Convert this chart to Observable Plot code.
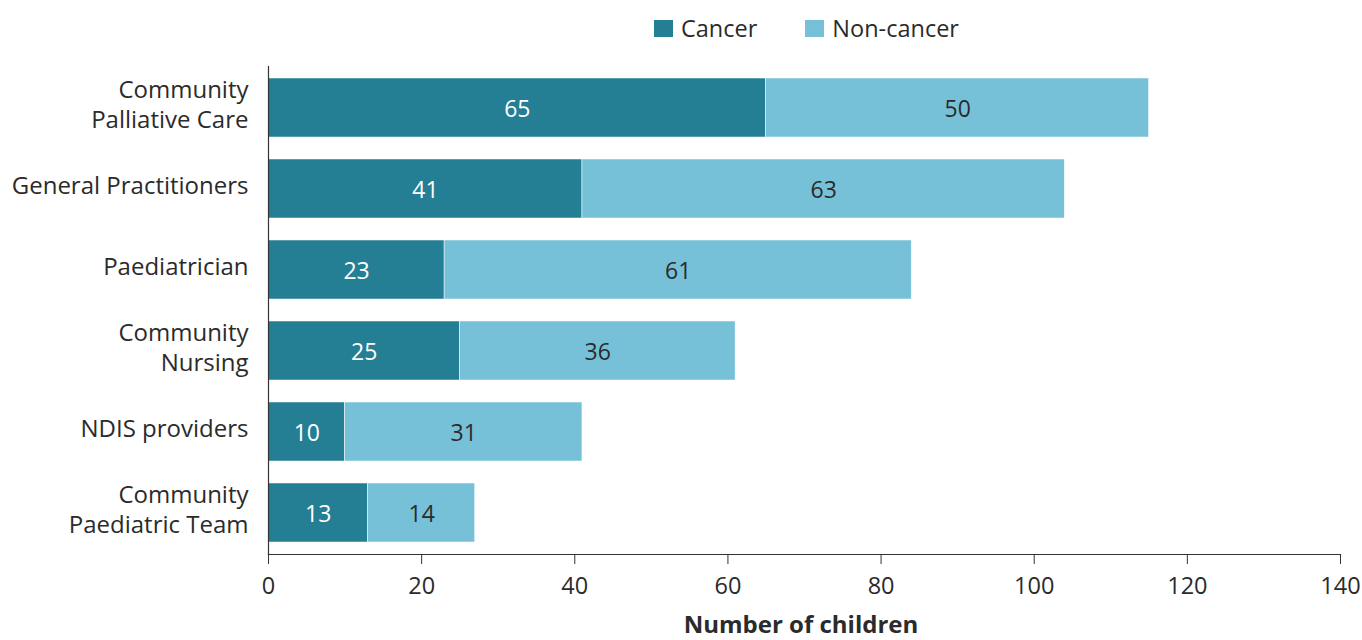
<!DOCTYPE html>
<html>
<head>
<meta charset="utf-8">
<script src="https://cdn.jsdelivr.net/npm/d3@7"></script>
<script src="https://cdn.jsdelivr.net/npm/@observablehq/plot@0.6"></script>
<style>
  body { margin: 0; background: #fff; font-family: "Open Sans", sans-serif; }
  #wrap { position: relative; width: 1362px; height: 640px; }
  #legend { position: absolute; top: 14px; left: 654px; display: flex; align-items: center; font-size: 23.5px; color: #2b2b2b; line-height: 28px; }
  .sw { width: 19px; height: 17px; display: inline-block; margin-right: 8px; }
  .item { display: flex; align-items: center; margin-right: 48px; }
</style>
</head>
<body>
<div id="wrap">
  <div id="legend"></div>
  <div id="chart"></div>
</div>
<script>
const categories = ["Community\nPalliative Care", "General Practitioners", "Paediatrician", "Community\nNursing", "NDIS providers", "Community\nPaediatric Team"];
const seriesNames = ["Cancer", "Non-cancer"];
const cancer = [65, 41, 23, 25, 10, 13];
const nonCancer = [50, 63, 61, 36, 31, 14];
const xTicks = [0, 20, 40, 60, 80, 100, 120, 140];
const colors = ["#247e94", "#76c1d8"];
const labelColors = ["#ffffff", "#2b2b2b"];

const data = [];
categories.forEach((c, i) => data.push({cat: c, series: seriesNames[0], value: cancer[i]}));
categories.forEach((c, i) => data.push({cat: c, series: seriesNames[1], value: nonCancer[i]}));

const legend = document.getElementById("legend");
seriesNames.forEach((s, i) => {
  const it = document.createElement("div");
  it.className = "item";
  const sw = document.createElement("span");
  sw.className = "sw";
  sw.style.background = colors[i];
  it.appendChild(sw);
  it.appendChild(document.createTextNode(s));
  legend.appendChild(it);
});

const stackOpts = {x: "value", y: "cat", z: "series", order: null};

const chart = Plot.plot({
  width: 1362,
  height: 640,
  marginTop: 66,
  marginBottom: 86,
  marginLeft: 268,
  marginRight: 22,
  style: {fontFamily: "Open Sans", fontSize: "23px", color: "#2b2b2b", background: "#fff"},
  x: {domain: [0, 140], ticks: xTicks},
  y: {domain: categories, paddingInner: 0.276, paddingOuter: 0.132},
  color: {domain: seriesNames, range: colors},
  marks: [
    Plot.barX(data, Plot.stackX({...stackOpts, fill: "series", stroke: "#fff", strokeWidth: 0.5})),
    Plot.text(data.filter(d => d.series === seriesNames[0]), Plot.stackX({...stackOpts, text: "value", fill: labelColors[0], fontSize: 23, dy: 1.5})),
    Plot.text(data, Plot.stackX({...stackOpts, text: d => d.series === seriesNames[1] ? d.value : "", fill: labelColors[1], fontSize: 23, dy: 1.5})),
    Plot.frame({anchor: "left", stroke: "#333", strokeWidth: 1.2}),
    Plot.frame({anchor: "bottom", stroke: "#333", strokeWidth: 1.2}),
    Plot.axisY({tickSize: 0, tickPadding: 20, fontSize: 24, lineHeight: 1.25, dy: -4.5, label: null}),
    Plot.axisX({ticks: xTicks, tickSize: 10, tickPadding: 13, fontSize: 23.5, label: null, stroke: "#333"}),
    Plot.text(["Number of children"], {frameAnchor: "bottom", dx: -3.5, dy: 71, fontWeight: "bold", fontSize: 24, fill: "#2b2b2b", lineAnchor: "middle"})
  ]
});
document.getElementById("chart").appendChild(chart);
</script>
</body>
</html>
